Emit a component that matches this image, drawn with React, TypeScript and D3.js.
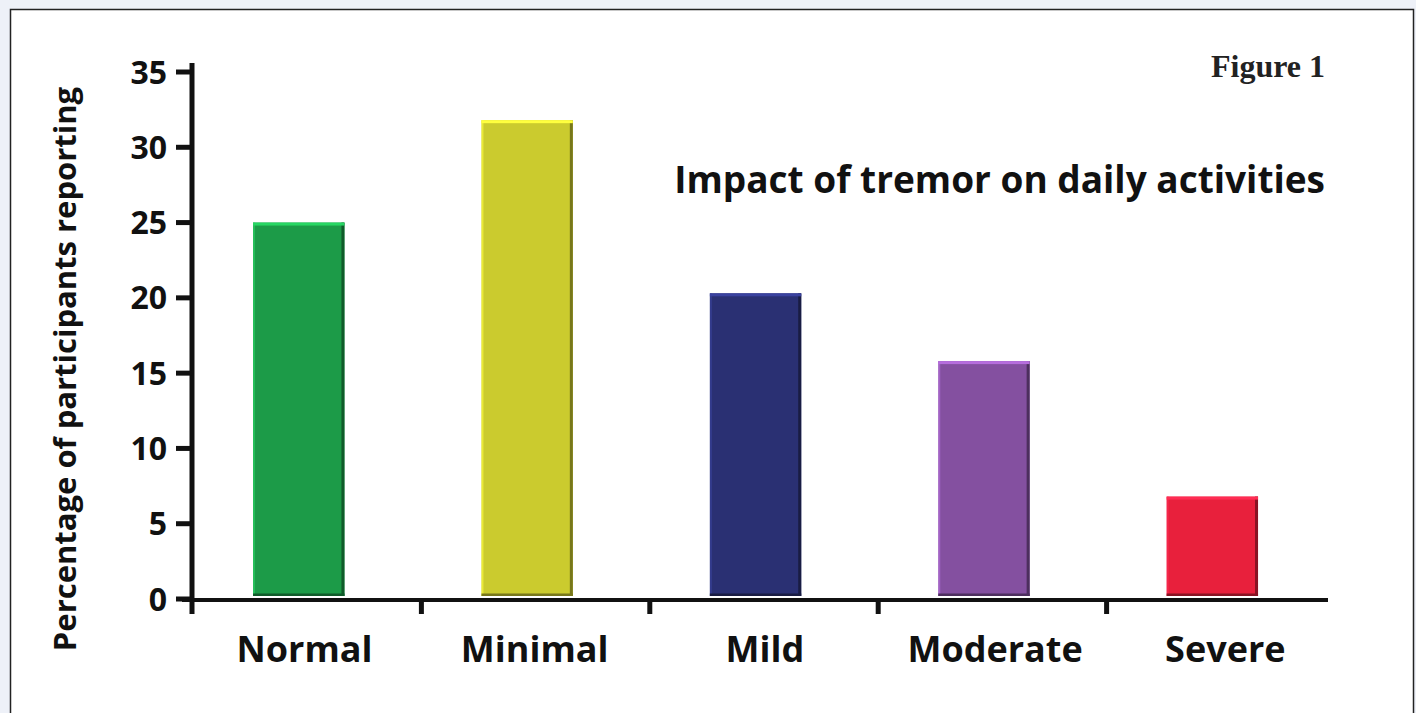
import React from "react";
import * as d3 from "d3";

const categories = ["Normal", "Minimal", "Mild", "Moderate", "Severe"];
const values = [25, 31.8, 20.3, 15.8, 6.8];
const barColors = ["#1c9b48", "#cbcb2e", "#2a3073", "#8450a0", "#e8203c"];
const yTicks = [0, 5, 10, 15, 20, 25, 30, 35];
const yLabel = "Percentage of participants reporting";
const title = "Impact of tremor on daily activities";
const figLabel = "Figure 1";

const W = 1416;
const H = 713;

export default function App() {
  const x = d3.scaleBand<string>().domain(categories).range([193, 1335]).paddingInner(0).paddingOuter(0);
  const y = d3.scaleLinear().domain([0, 35]).range([599, 72]);
  const bw = x.bandwidth();
  const barOffset = bw * 0.263;
  const barW = bw * 0.4;
  const sans = "'Open Sans', 'Noto Sans', sans-serif";

  return (
    <div style={{ position: "absolute", left: 0, top: 0 }}>
      <svg width={W} height={H} style={{ display: "block" }}>
        <rect x={0} y={0} width={W} height={H} fill="#eef1f8" />
        <rect x={10.5} y={9.5} width={1403} height={730} fill="#ffffff" stroke="#222" strokeWidth={1.5} />

        {/* bars */}
        {categories.map((c, i) => {
          const x0 = (x(c) as number) + barOffset;
          const y0 = y(values[i]);
          const y1 = y(0) - 3;
          const h = y1 - y0;
          const base = d3.color(barColors[i])!;
          const light = base.brighter(0.9).formatHex();
          const dark = base.darker(1.5).formatHex();
          return (
            <g key={c}>
              <rect x={x0} y={y0} width={barW} height={h} fill={barColors[i]} />
              <rect x={x0} y={y0} width={2} height={h} fill={light} opacity={0.6} />
              <rect x={x0 + barW - 3} y={y0} width={3} height={h} fill={dark} />
              <rect x={x0} y={y1 - 2.5} width={barW} height={2.5} fill={dark} />
              <rect x={x0} y={y0} width={barW} height={3} fill={light} />
            </g>
          );
        })}

        {/* y axis */}
        <line x1={192} x2={192} y1={63} y2={614} stroke="#111" strokeWidth={5} />
        {yTicks.map((t) => (
          <g key={t}>
            <line x1={176} x2={192} y1={y(t)} y2={y(t)} stroke="#111" strokeWidth={5} />
            <text
              x={167}
              y={y(t)}
              dy="0.36em"
              textAnchor="end"
              fontFamily={sans}
              fontWeight={700}
              fontSize={32}
              fill="#111"
            >
              {t}
            </text>
          </g>
        ))}

        {/* x axis */}
        <line x1={182} x2={1328} y1={600} y2={600} stroke="#111" strokeWidth={4} />
        {categories.slice(1).map((c) => (
          <line key={c} x1={x(c) as number} x2={x(c) as number} y1={600} y2={614} stroke="#111" strokeWidth={5} />
        ))}
        {categories.map((c, i) => (
          <text
            key={c}
            x={(x(c) as number) + bw / 2 + (i - 1.5) * 1.8}
            y={662}
            textAnchor="middle"
            fontFamily={sans}
            fontWeight={700}
            fontSize={36}
            fill="#111"
          >
            {c}
          </text>
        ))}

        {/* y label */}
        <text
          transform={`translate(76, 369) rotate(-90)`}
          textAnchor="middle"
          fontFamily={sans}
          fontWeight={700}
          fontSize={31}
          fill="#111"
        >
          {yLabel}
        </text>

        {/* titles */}
        <text x={1325} y={193} textAnchor="end" fontFamily={sans} fontWeight={700} fontSize={37} fill="#111">
          {title}
        </text>
        <text
          x={1325}
          y={77}
          textAnchor="end"
          fontFamily="'Liberation Serif', serif"
          fontWeight={700}
          fontSize={32}
          fill="#222"
        >
          {figLabel}
        </text>
      </svg>
    </div>
  );
}
